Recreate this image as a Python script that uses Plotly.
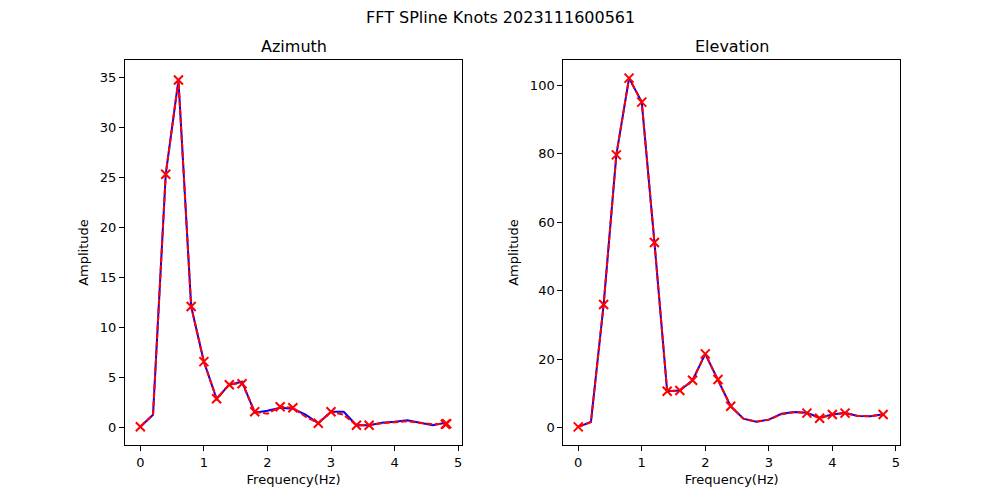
import plotly.graph_objects as go

freq = [0.0, 0.2, 0.4, 0.6, 0.8, 1.0, 1.2, 1.4, 1.6, 1.8, 2.0, 2.2, 2.4, 2.6, 2.8,
        3.0, 3.2, 3.4, 3.6, 3.8, 4.0, 4.2, 4.4, 4.6, 4.8]

az_fft = [0.1, 1.3, 25.3, 34.7, 12.1, 6.6, 2.9, 4.3, 4.6, 1.5, 1.7, 2.0, 1.9, 1.3, 0.45,
          1.6, 1.6, 0.25, 0.25, 0.5, 0.6, 0.75, 0.5, 0.25, 0.5]
az_spline = [0.1, 1.3, 25.3, 34.7, 12.1, 6.6, 2.9, 4.3, 4.5, 1.6, 1.4, 2.1, 2.0, 1.1, 0.45,
             1.6, 1.3, 0.25, 0.25, 0.45, 0.55, 0.65, 0.5, 0.35, 0.4]
az_knot_f = [0.0, 0.4, 0.6, 0.8, 1.0, 1.2, 1.4, 1.6, 1.8, 2.2, 2.4, 2.8, 3.0, 3.4, 3.6, 4.8, 4.82]
az_knot_v = [0.1, 25.3, 34.7, 12.1, 6.6, 2.9, 4.3, 4.4, 1.6, 2.1, 2.0, 0.45, 1.6, 0.25, 0.25, 0.35, 0.4]

el_fft = [0.2, 1.6, 35.9, 79.6, 102.0, 95.0, 54.0, 10.6, 10.8, 13.8, 21.5, 14.0, 6.2, 2.6, 1.7,
          2.3, 4.0, 4.5, 4.3, 2.9, 3.8, 4.3, 3.4, 3.3, 3.9]
el_spline = [0.2, 1.6, 35.9, 79.6, 102.0, 95.0, 54.0, 10.6, 10.8, 13.8, 21.5, 14.0, 6.2, 2.6, 1.7,
             2.3, 3.9, 4.5, 4.2, 2.7, 3.8, 4.2, 3.4, 3.3, 3.8]
el_knot_f = [0.0, 0.4, 0.6, 0.8, 1.0, 1.2, 1.4, 1.6, 1.8, 2.0, 2.2, 2.4, 3.6, 3.8, 4.0, 4.2, 4.8]
el_knot_v = [0.2, 35.9, 79.6, 102.0, 95.0, 54.0, 10.6, 10.8, 13.8, 21.5, 14.0, 6.2, 4.2, 2.7, 3.8, 4.2, 3.8]

FONT = "DejaVu Sans"
fig = go.Figure()

for xa, ya, fft, spl, kf, kv in [("x", "y", az_fft, az_spline, az_knot_f, az_knot_v),
                                 ("x2", "y2", el_fft, el_spline, el_knot_f, el_knot_v)]:
    fig.add_trace(go.Scatter(x=freq, y=fft, mode="lines", line=dict(color="blue", width=2),
                             xaxis=xa, yaxis=ya, showlegend=False))
    fig.add_trace(go.Scatter(x=freq, y=spl, mode="lines",
                             line=dict(color="red", width=2, dash="6px,2.5px"),
                             xaxis=xa, yaxis=ya, showlegend=False))
    fig.add_trace(go.Scatter(x=kf, y=kv, mode="markers",
                             marker=dict(symbol="x-thin", size=9, line=dict(color="red", width=2), color="red"),
                             xaxis=xa, yaxis=ya, showlegend=False))

axis_common = dict(showgrid=False, zeroline=False, showline=True, linecolor="black", linewidth=1,
                   mirror=True, ticks="outside", ticklen=5, tickwidth=1, tickcolor="black",
                   tickfont=dict(family=FONT, size=13, color="black"))

fig.update_layout(
    width=1000, height=500,
    margin=dict(l=0, r=0, t=0, b=0),
    plot_bgcolor="white", paper_bgcolor="white",
    font=dict(family=FONT, color="black"),
    xaxis=dict(domain=[0.125, 0.462], range=[-0.241, 5.061], tickvals=[0, 1, 2, 3, 4, 5],
               title=dict(text="Frequency(Hz)", font=dict(family=FONT, size=13), standoff=6),
               anchor="y", **axis_common),
    yaxis=dict(domain=[0.11, 0.88], range=[-1.72, 36.7], tickvals=[0, 5, 10, 15, 20, 25, 30, 35],
               title=dict(text="Amplitude", font=dict(family=FONT, size=13), standoff=8),
               anchor="x", **axis_common),
    xaxis2=dict(domain=[0.5633, 0.9], range=[-0.235, 5.065], tickvals=[0, 1, 2, 3, 4, 5],
                title=dict(text="Frequency(Hz)", font=dict(family=FONT, size=13), standoff=6),
                anchor="y2", **axis_common),
    yaxis2=dict(domain=[0.11, 0.88], range=[-5.1, 107.3], tickvals=[0, 20, 40, 60, 80, 100],
                title=dict(text="Amplitude", font=dict(family=FONT, size=13), standoff=8),
                anchor="x2", **axis_common),
    annotations=[
        dict(text="FFT SPline Knots 2023111600561", x=0.5, y=1 - 17 / 500, xref="paper", yref="paper",
             xanchor="center", yanchor="middle", showarrow=False, font=dict(family=FONT, size=16)),
        dict(text="Azimuth", x=(0.125 + 0.462) / 2, y=0.88, xref="paper", yref="paper",
             xanchor="center", yanchor="bottom", yshift=2, showarrow=False, font=dict(family=FONT, size=16)),
        dict(text="Elevation", x=(0.5633 + 0.9) / 2, y=0.88, xref="paper", yref="paper",
             xanchor="center", yanchor="bottom", yshift=2, showarrow=False, font=dict(family=FONT, size=16)),
    ],
)

fig.write_html("out.html", config={"displayModeBar": False},
               post_script="document.body.style.margin='0';document.body.style.padding='0';")
